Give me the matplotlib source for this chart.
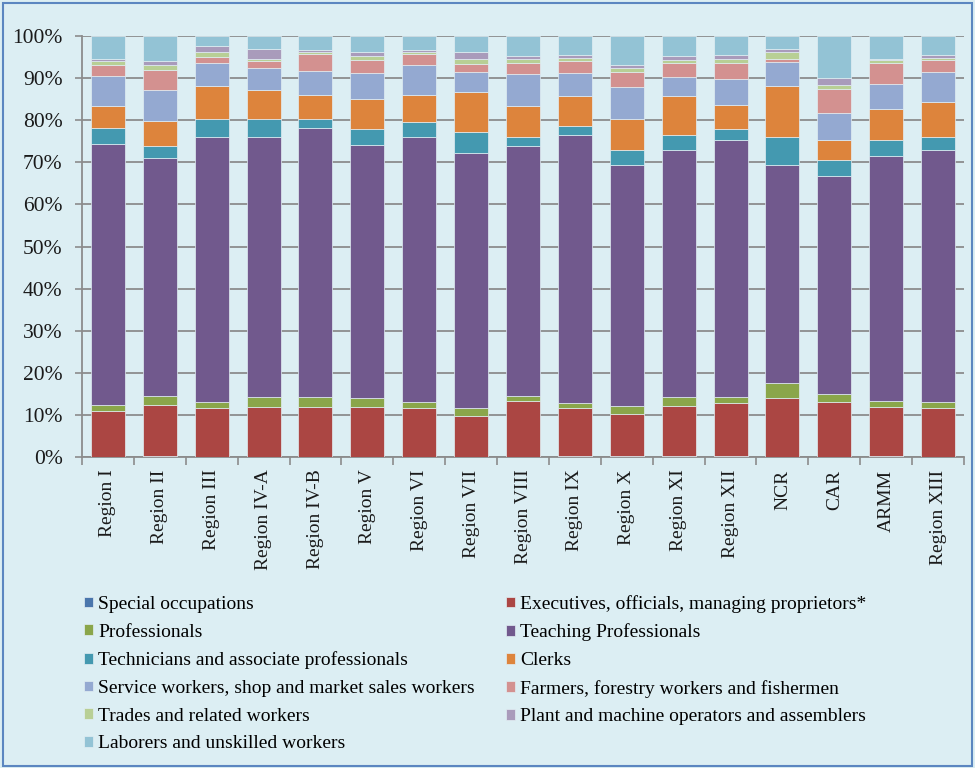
import matplotlib
matplotlib.use("Agg")
import matplotlib.pyplot as plt
import numpy as np
from matplotlib.patches import Rectangle

regions = ["Region I", "Region II", "Region III", "Region IV-A", "Region IV-B", "Region V",
           "Region VI", "Region VII", "Region VIII", "Region IX", "Region X", "Region XI",
           "Region XII", "NCR", "CAR", "ARMM", "Region XIII"]

special     = [0.1, 0.3, 0.1, 0.1, 0.1, 0.1, 0.1, 0.1, 0.1, 0.3, 0.3, 0.3, 0.3, 0.1, 0.1, 0.3, 0.1]
executives  = [10.8, 12.1, 11.5, 11.8, 11.8, 11.8, 11.5, 9.7, 13.3, 11.3, 10.0, 11.9, 12.5, 13.8, 13.0, 11.6, 11.5]
professionals = [1.5, 2.2, 1.5, 2.4, 2.4, 2.0, 1.5, 1.8, 1.2, 1.2, 1.8, 2.1, 1.5, 3.7, 1.8, 1.5, 1.5]
teaching    = [62.0, 56.5, 62.9, 61.7, 63.8, 60.2, 62.9, 60.7, 59.2, 63.8, 57.2, 58.7, 61.0, 51.7, 51.9, 58.2, 59.9]
technicians = [3.7, 2.7, 4.2, 4.2, 2.1, 3.7, 3.6, 4.8, 2.2, 2.1, 3.7, 3.6, 2.5, 6.7, 3.7, 3.7, 3.0]
clerks      = [5.2, 6.1, 7.9, 7.0, 5.9, 7.3, 6.5, 9.6, 7.3, 7.0, 7.2, 9.1, 5.9, 12.2, 4.8, 7.4, 8.3]
service     = [7.3, 7.3, 5.5, 5.2, 5.7, 6.1, 6.9, 4.8, 7.6, 5.5, 7.7, 4.6, 6.0, 5.7, 6.4, 6.0, 7.2]
farmers     = [2.4, 4.8, 1.5, 1.6, 3.9, 3.0, 2.7, 1.8, 2.8, 2.8, 3.6, 3.4, 4.0, 0.6, 5.8, 4.9, 2.7]
trades      = [1.0, 1.0, 1.2, 0.6, 0.6, 1.0, 0.6, 1.2, 0.8, 0.8, 0.9, 0.5, 0.8, 1.6, 0.9, 0.6, 0.6]
plant       = [0.6, 1.0, 1.3, 2.4, 0.4, 0.9, 0.4, 1.6, 0.7, 0.7, 0.6, 1.0, 1.0, 0.9, 1.6, 0.3, 0.7]
laborers    = [5.4, 6.0, 2.4, 3.0, 3.3, 3.9, 3.3, 3.9, 4.8, 4.5, 7.0, 4.8, 4.5, 3.0, 10.0, 5.5, 4.5]

series_names = ["Special occupations", "Executives, officials, managing proprietors*",
                "Professionals", "Teaching Professionals",
                "Technicians and associate professionals", "Clerks",
                "Service workers, shop and market sales workers", "Farmers, forestry workers and fishermen",
                "Trades and related workers", "Plant and machine operators and assemblers",
                "Laborers and unskilled workers"]
series_vals = [special, executives, professionals, teaching, technicians, clerks,
               service, farmers, trades, plant, laborers]
colors = ["#4A76AC", "#AB4643", "#8AA64A", "#71598D", "#4499B0", "#DD843C",
          "#94A9D1", "#D39190", "#B8CF95", "#A99BBB", "#93C3D5"]

bg = "#DCEEF3"
plt.rcParams['font.family'] = ['Liberation Serif', 'DejaVu Serif']

W, H = 975, 768
fig = plt.figure(figsize=(W/100, H/100), dpi=100, facecolor=bg)
ax = fig.add_axes([82/W, 1-457/H, (964-82)/W, (457-36)/H])
ax.set_facecolor(bg)

x = np.arange(len(regions))
data = np.array(series_vals)
totals = data.sum(axis=0)
pct = data / totals * 100
bottom = np.zeros(len(regions))
handles = []
for name, vals, c in zip(series_names, pct, colors):
    b = ax.bar(x, vals, bottom=bottom, width=0.655, color=c, edgecolor="#E2EEF3",
               linewidth=0.5, label=name, zorder=3)
    handles.append(b)
    bottom += vals

ax.set_xlim(-0.5, len(regions) - 0.5)
ax.set_ylim(0, 100)
ax.set_yticks(np.arange(0, 101, 10))
ax.set_yticklabels([f"{v}%" for v in range(0, 101, 10)], fontsize=15.5, color="#1A1A1A")
ax.yaxis.grid(True, color="#8C8C8C", linewidth=1.3, zorder=0)
ax.tick_params(axis='y', length=5, color="#8C8C8C", width=1.2, pad=9)

ax.set_xticks(x)
ax.set_xticklabels(regions, rotation=90, fontsize=14, color="#1A1A1A")
ax.tick_params(axis='x', length=0, pad=9)
ax.set_xticks(np.arange(-0.5, len(regions), 1), minor=True)
ax.tick_params(axis='x', which='minor', length=6, color="#8C8C8C", width=1.2)

for s in ["top", "right"]:
    ax.spines[s].set_visible(False)
for s in ["left", "bottom"]:
    ax.spines[s].set_color("#8C8C8C")
    ax.spines[s].set_linewidth(1.3)

order = list(range(0, 11, 2)) + list(range(1, 11, 2))
fig.legend(handles=[handles[i] for i in order], labels=[series_names[i] for i in order],
           ncol=2, loc="upper left", bbox_to_anchor=(84/W, 1-595/H), frameon=False,
           fontsize=14, handlelength=0.47, handleheight=0.47, handletextpad=0.25,
           columnspacing=1.62, labelspacing=0.55, borderaxespad=0, borderpad=0)

fig.patches.append(Rectangle((3/W, 2/H), 1-6/W, 1-5/H, transform=fig.transFigure,
                             fill=False, edgecolor="#5B86C0", linewidth=1.5))

fig.savefig("out.png", dpi=100, facecolor=bg)
